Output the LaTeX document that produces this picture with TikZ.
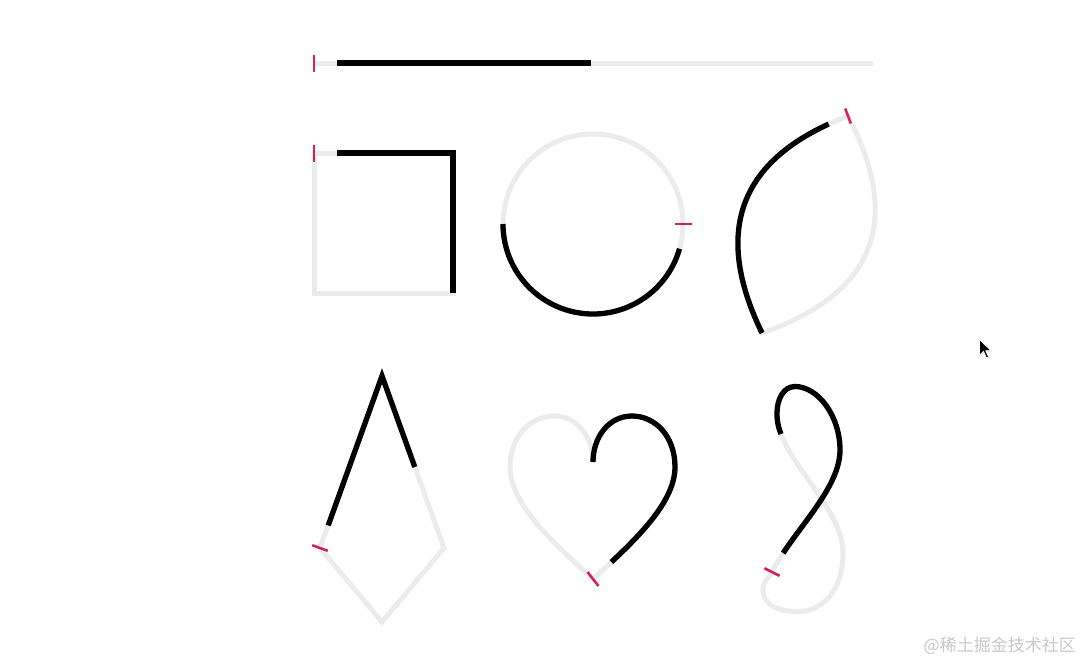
\documentclass[tikz,border=0pt]{standalone}
\usepackage{fontspec}
\usetikzlibrary{calc}
\newfontfamily\cjk{Noto Sans CJK SC}
\definecolor{trackgray}{RGB}{235,235,235}
\definecolor{tickred}{RGB}{214,32,82}
\definecolor{wmgray}{RGB}{200,200,200}
\begin{document}
\begin{tikzpicture}[x=1pt,y=-1pt,
  track/.style={draw=trackgray, line width=5pt, line join=miter},
  ink/.style={draw=black, line width=5.3pt, line join=miter},
  tickmark/.style={draw=tickred, line width=2.5pt},
  skipstart/.style={dash pattern=on 3000pt off #1, dash phase=3000pt}]
\fill[white] (0,0) rectangle (1084,662);
\useasboundingbox (0,0) rectangle (1084,662);

% ---------- line ----------
\coordinate (l0) at (314,63);
\coordinate (l1) at (873,63);
\coordinate (lb0) at (337,63);
\coordinate (lb1) at (591,63);
\draw[track] (l0) -- (l1);
\draw[ink] (lb0) -- (lb1);
\draw[tickmark] (314,54.5) -- (314,71.5);

% ---------- square ----------
\coordinate (s1) at (314,153);
\coordinate (s2) at (453,153);
\coordinate (s3) at (453,293);
\coordinate (s4) at (314,293);
\draw[track] (s1) -- (s2) -- (s3) -- (s4) -- cycle;
\draw[ink] (337,153) -- (s2) -- (s3);
\draw[tickmark] (314,144.5) -- (314,161.5);

% ---------- circle ----------
\coordinate (c0) at (593,224);
\draw[track] (c0) circle (90);
\draw[ink] (c0) ++(16:90) arc[start angle=16, end angle=180, radius=90];
\draw[tickmark] (674.5,224) -- (691.5,224);

% ---------- leaf ----------
\coordinate (f0) at (848,116);
\coordinate (f1) at (762,333);
\draw[track] (f0) .. controls (740.2,156.9) and (711.6,229.3) .. (f1)
  .. controls (874.5,293.9) and (903.1,221.5) .. (f0) -- cycle;
\draw[ink, skipstart=21pt] (f0) .. controls (740.2,156.9) and (711.6,229.3) .. (f1);
\draw[tickmark] (845.2,108.5) -- (850.8,123.5);

% ---------- kite ----------
\coordinate (k1) at (320,548);
\coordinate (k2) at (382,376);
\coordinate (k3) at (444,548);
\coordinate (k4) at (382,622);
\draw[track] (k1) -- (k2) -- (k3) -- (k4) -- cycle;
\draw[ink] (328.2,525.4) -- (k2) -- (414.8,467);
\draw[tickmark] (312.2,545.2) -- (327.8,550.8);

% ---------- heart ----------
\coordinate (h0) at (593,579);
\coordinate (h1) at (593,462);
\draw[track] (h0) .. controls (630,545) and (675,505) .. (675,467)
  .. controls (675,436) and (655,416) .. (632,416)
  .. controls (608,416) and (593,438) .. (h1)
  .. controls (593,438) and (578,416) .. (554,416)
  .. controls (531,416) and (510,436) .. (510,467)
  .. controls (510,505) and (556,545) .. (h0) -- cycle;
\draw[ink, skipstart=25pt] (h0) .. controls (630,545) and (675,505) .. (675,467)
  .. controls (675,436) and (655,416) .. (632,416)
  .. controls (608,416) and (593,438) .. (h1);
\draw[tickmark] (587.5,572) -- (598.5,586);

% ---------- figure eight ----------
\coordinate (e0) at (772,572);
\coordinate (eC) at (840,450);
\coordinate (eD) at (795,386.5);
\coordinate (eE) at (777,413);
\coordinate (eE2) at (781,434);
\coordinate (eG) at (843,553);
\coordinate (eH) at (798,611.5);
\coordinate (eI) at (763,590);
\draw[track] (e0) .. controls (792,532) and (840,490) .. (eC)
  .. controls (840,416) and (818,386.5) .. (eD)
  .. controls (783,386.5) and (777,400) .. (eE)
  .. controls (777,421) and (778,426.5) .. (eE2)
  .. controls (795,471.6) and (843,513) .. (eG)
  .. controls (843,590) and (823,611.5) .. (eH)
  .. controls (778,611.5) and (763,605) .. (eI)
  .. controls (763,580) and (768.4,579) .. (e0) -- cycle;
\draw[ink, skipstart=22pt] (e0) .. controls (792,532) and (840,490) .. (eC)
  .. controls (840,416) and (818,386.5) .. (eD)
  .. controls (783,386.5) and (777,400) .. (eE)
  .. controls (777,421) and (778,426.5) .. (eE2);
\draw[tickmark] (764.4,568.2) -- (779.6,575.8);

% ---------- cursor ----------
\coordinate (m0) at (979.5,339.5);
\fill[black!12] ($(m0)+(1,1)$) -- ++(0,16) -- ++(4,-4) -- ++(3,6.5) -- ++(2.2,-1) -- ++(-3,-6.3) -- ++(5.5,0) -- cycle;
\filldraw[fill=black, draw=white, line width=0.8pt, line join=miter] (m0) -- ++(0,16) -- ++(4,-4) -- ++(3,6.5) -- ++(2.2,-1) -- ++(-3,-6.3) -- ++(5.5,0) -- cycle;

% ---------- watermark ----------
\node[anchor=east, inner sep=0pt, text=wmgray, font=\cjk\fontsize{17}{17}\selectfont] (wm) at (1076,646) {@稀土掘金技术社区};
\end{tikzpicture}
\end{document}
